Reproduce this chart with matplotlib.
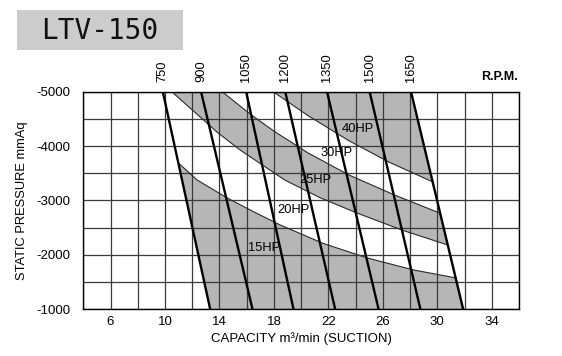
import numpy as np
import matplotlib
matplotlib.use("Agg")
import matplotlib.pyplot as plt
from matplotlib.patches import Rectangle, Polygon
from matplotlib.ticker import FixedLocator, MultipleLocator
from matplotlib.transforms import blended_transform_factory

plt.rcParams['font.family'] = ['Liberation Sans', 'DejaVu Sans']
plt.rcParams['axes.unicode_minus'] = False

# ---------------- data ----------------
title = "LTV-150"
rpm_labels = ['750', '900', '1050', '1200', '1350', '1500', '1650']
rpm_q_top = [9.84, 12.65, 15.96, 18.83, 21.9, 25.03, 28.07]      # capacity at -5000 mmAq
rpm_q_bottom = [13.32, 16.43, 19.44, 22.5, 25.69, 28.76, 31.9]   # capacity at -1000 mmAq
p_top, p_bottom = -5000, -1000

# HP limit curves (capacity, static pressure)
c1_q = [10.98, 12.36, 14.57, 16.40, 18.46, 21.63, 24.86, 28.24, 31.35]
c1_p = [-3690, -3377, -3046, -2807, -2550, -2210, -1943, -1724, -1577]
c2_q = [10.5, 13.9, 15.52, 18.81, 21.4, 24.1, 27.4, 30.77]
c2_p = [-5000, -4241, -3928, -3375, -3050, -2770, -2457, -2182]
c3_q = [14.2, 16.26, 17.97, 20.5, 23.5, 26.8, 30.21]
c3_p = [-5000, -4588, -4280, -3875, -3470, -3107, -2766]
c4_q = [17.95, 20.5, 23.5, 26.5, 29.66]
c4_p = [-5000, -4560, -4100, -3700, -3343]

hp_labels = ['15HP', '20HP', '25HP', '30HP', '40HP']
hp_label_q = [17.25, 19.46, 21.04, 22.57, 24.16]
hp_label_p = [-2118, -2825, -3386, -3868, -4320]

x_ticks = [6, 10, 14, 18, 22, 26, 30, 34]
y_ticks = [-5000, -4000, -3000, -2000, -1000]

# ---------------- figure ----------------
fig = plt.figure(figsize=(5.62, 3.56), dpi=100)
ax = fig.add_axes([0.1482, 0.1312, 0.7753, 0.6112])
ax.set_xlim(4, 36)
ax.set_ylim(-1000, -5000)

gray = '#b6b6b6'
# 15HP region
poly15 = list(zip(c1_q, c1_p)) + [(rpm_q_bottom[-1], p_bottom), (rpm_q_bottom[0], p_bottom)]
ax.add_patch(Polygon(poly15, closed=True, facecolor=gray, edgecolor='none', zorder=1))
# 25HP band
poly25 = list(zip(c2_q, c2_p)) + list(zip(c3_q, c3_p))[::-1]
ax.add_patch(Polygon(poly25, closed=True, facecolor=gray, edgecolor='none', zorder=1))
# 40HP region
poly40 = list(zip(c4_q, c4_p)) + [(rpm_q_top[-1], p_top)]
ax.add_patch(Polygon(poly40, closed=True, facecolor=gray, edgecolor='none', zorder=1))

for cq, cp in [(c1_q, c1_p), (c2_q, c2_p), (c3_q, c3_p), (c4_q, c4_p)]:
    ax.plot(cq, cp, color='#2a2a2a', lw=0.8, zorder=2.7)

for qt, qb in zip(rpm_q_top, rpm_q_bottom):
    ax.plot([qt, qb], [p_top, p_bottom], color='black', lw=1.7, zorder=3,
            solid_capstyle='butt')

trans = blended_transform_factory(ax.transData, ax.transAxes)
for lab, qt in zip(rpm_labels, rpm_q_top):
    ax.text(qt, 1.045, lab, transform=trans, rotation=90, ha='center', va='bottom',
            fontsize=9.3, color='black')
ax.text(0.997, 1.04, 'R.P.M.', transform=ax.transAxes, ha='right', va='bottom',
        fontsize=9, fontweight='bold')

for lab, q, p in zip(hp_labels, hp_label_q, hp_label_p):
    ax.text(q, p, lab, ha='center', va='center', fontsize=9.3, zorder=4)

ax.xaxis.set_major_locator(FixedLocator(x_ticks))
ax.yaxis.set_major_locator(FixedLocator(y_ticks))
ax.xaxis.set_minor_locator(MultipleLocator(2))
ax.yaxis.set_minor_locator(MultipleLocator(500))
ax.grid(True, which='both', color='#3a3a3a', lw=0.9)
ax.set_axisbelow(False)
for gl in ax.get_xgridlines() + ax.get_ygridlines():
    gl.set_zorder(2.5)
ax.tick_params(which='both', length=0)
ax.tick_params(axis='y', pad=9.5, labelsize=9.5)
ax.tick_params(axis='x', pad=5, labelsize=9.5)
for s in ax.spines.values():
    s.set_color('black')
    s.set_linewidth(1.0)
    s.set_zorder(5)

ax.set_xlabel('CAPACITY m³/min (SUCTION)', fontsize=9.5, labelpad=3)
ax.set_ylabel('STATIC PRESSURE mmAq', fontsize=9.3)
ax.yaxis.set_label_coords(-0.128, 0.5)

# title box
fig.patches.append(Rectangle((17 / 562, 1 - 50 / 356), 166 / 562, 40 / 356,
                             transform=fig.transFigure, facecolor='#cccccc',
                             edgecolor='none', zorder=0))
fig.text(100 / 562, 1 - 31 / 356, title, ha='center', va='center',
         fontsize=20, family='DejaVu Sans Mono', color='#111111')

fig.savefig('out.png', dpi=100)
